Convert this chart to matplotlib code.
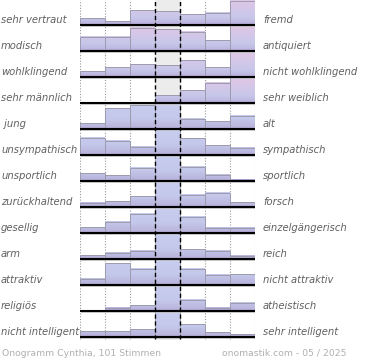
import matplotlib
matplotlib.use('Agg')
import matplotlib.pyplot as plt
import matplotlib.transforms as mtrans
from matplotlib.colors import LinearSegmentedColormap
import numpy as np

left_labels = ['sehr vertraut', 'modisch', 'wohlklingend', 'sehr männlich', ' jung',
               'unsympathisch', 'unsportlich', 'zurückhaltend', 'gesellig', 'arm',
               'attraktiv', 'religiös', 'nicht intelligent']
right_labels = ['fremd', 'antiquiert', 'nicht wohlklingend', 'sehr weiblich', 'alt',
                'sympathisch', 'sportlich', 'forsch', 'einzelgängerisch', 'reich',
                'nicht attraktiv', 'atheistisch', 'sehr intelligent']

# bar heights in percent of row height (7 steps per scale)
values = [
    [26, 14, 57, 53, 41, 47, 93],
    [55, 55, 90, 83, 74, 42, 100],
    [22, 37, 49, 45, 64, 37, 100],
    [0, 0, 0, 30, 50, 77, 100],
    [23, 80, 92, 100, 40, 30, 51],
    [67, 54, 32, 100, 64, 38, 28],
    [30, 22, 51, 100, 55, 24, 5],
    [17, 22, 42, 100, 47, 54, 19],
    [22, 43, 74, 100, 63, 20, 20],
    [15, 24, 31, 100, 38, 32, 12],
    [24, 83, 62, 100, 62, 40, 41],
    [0, 13, 23, 100, 43, 12, 32],
    [23, 23, 30, 100, 50, 19, 10],
]
n_name_rows = 4  # first rows are about the name itself (pink tint)

footer_left = 'Onogramm Cynthia, 101 Stimmen'
footer_right = 'onomastik.com - 05 / 2025'

row_h = 26
n = len(values)

cm_pink = LinearSegmentedColormap.from_list(
    'pink', [(0, '#a898c8'), (0.08, '#beb8e0'), (0.3, '#c8c8ea'), (1, '#e2c6e6')])
cm_blue = LinearSegmentedColormap.from_list(
    'blue', [(0, '#a898c8'), (0.08, '#bab6de'), (0.4, '#c4c8ea'), (1, '#c8cef0')])

fig = plt.figure(figsize=(3.7, 3.6), dpi=100)
ax = fig.add_axes([79.5 / 370, 20 / 360, 175 / 370, 340 / 360])
ax.set_xlim(0, 7)
ax.set_ylim(-3, 337)
ax.axis('off')

ax.axvspan(3, 4, color='#ececec', zorder=0)
ax.vlines([0, 1, 2, 5, 6, 7], -2, 337, colors='#999999', linestyles=(0, (1, 1.5)), lw=0.8, zorder=1)

for i, row in enumerate(values):
    base = (n - 1 - i) * row_h
    cmap = cm_pink if i < n_name_rows else cm_blue
    for j, v in enumerate(row):
        h = min(v, 100) / 100 * row_h
        if h <= 0:
            continue
        grad = np.linspace(0, h / row_h, 60).reshape(-1, 1)
        ax.imshow(grad, extent=(j, j + 1, base, base + h), origin='lower', cmap=cmap,
                  vmin=0, vmax=1, aspect='auto', interpolation='bilinear', zorder=2)
        ax.bar(j, h, bottom=base, width=1, align='edge', facecolor='none',
               edgecolor='#9c9cae', lw=0.7, zorder=3)
    ax.hlines(base - 1.2, 0.06, 7.08, color='#c4c4c4', lw=1.2, zorder=3)
    ax.hlines(base, 0, 7, color='black', lw=1.5, zorder=4)

ax.vlines([3, 4], -2, 337, colors='black', linestyles=(0, (3, 2)), lw=1, zorder=5)
ax.set_xlim(0, 7)
ax.set_ylim(-3, 337)

tr = mtrans.blended_transform_factory(fig.transFigure, ax.transData)
for i in range(n):
    base = (n - 1 - i) * row_h
    ax.text(1 / 370, base + 2, left_labels[i], transform=tr, ha='left', va='baseline',
            fontsize=7.2, style='italic', color='#606060')
    ax.text(263 / 370, base + 2, right_labels[i], transform=tr, ha='left', va='baseline',
            fontsize=7.2, style='italic', color='#606060')

fig.text(2 / 370, 1 - 356 / 360, footer_left, fontsize=6.7, color='#b0b0b0', va='baseline')
fig.text(346 / 370, 1 - 356 / 360, footer_right, fontsize=6.7, color='#b0b0b0',
         va='baseline', ha='right')

fig.savefig('out.png', dpi=100)
